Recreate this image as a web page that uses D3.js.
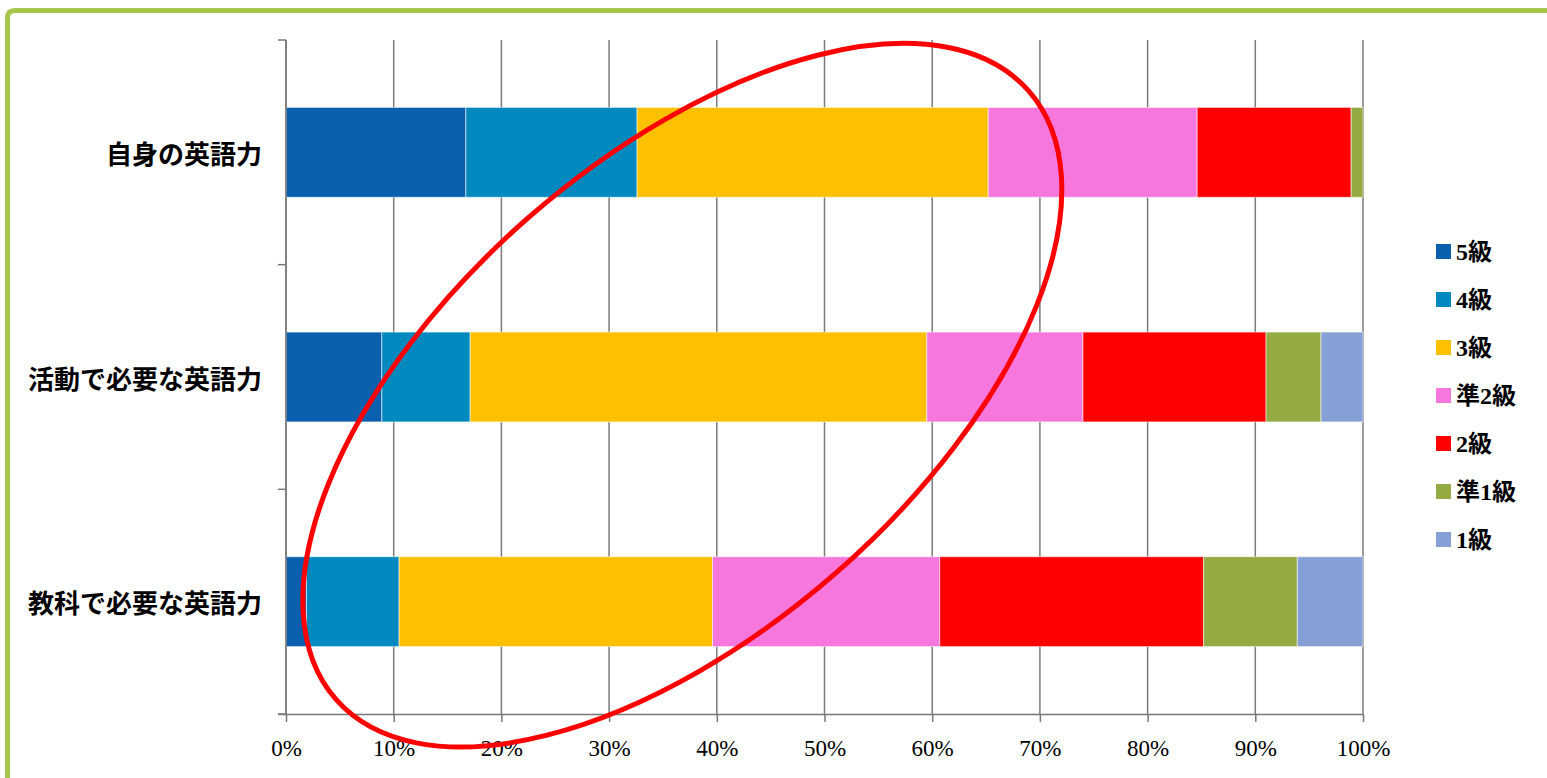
<!DOCTYPE html>
<html>
<head>
<meta charset="utf-8">
<script src="https://cdn.jsdelivr.net/npm/d3@7"></script>
<style>
  html, body { margin: 0; padding: 0; background: #fff; }
  svg { display: block; }
</style>
</head>
<body>
<svg id="chart" width="1547" height="778"></svg>
<script>
// ---- data ----
const categories = ["自身の英語力", "活動で必要な英語力", "教科で必要な英語力"];
const grades = ["5級", "4級", "3級", "準2級", "2級", "準1級", "1級"];
const gradeColors = ["#0B60AD", "#0089BF", "#FFC000", "#F877DD", "#FF0000", "#93AB42", "#86A0D5"];
// percentage per grade, in category order
const g5   = [16.7,  8.9,  1.9];
const g4   = [15.9,  8.2,  8.6];
const g3   = [32.6, 42.4, 29.1];
const gP2  = [19.4, 14.5, 21.1];
const g2   = [14.3, 17.0, 24.5];
const gP1  = [ 1.1,  5.1,  8.7];
const g1   = [ 0.0,  3.9,  6.1];
const tickValues = [0, 0.1, 0.2, 0.3, 0.4, 0.5, 0.6, 0.7, 0.8, 0.9, 1.0];
// annotation ellipse (in data units of the x scale / plot fraction of y)
const ellipseCenterX = 0.368, ellipseCenterYFrac = 0.527;

const seriesValues = [g5, g4, g3, gP2, g2, gP1, g1];
const rows = categories.map((c, i) => {
  const r = { cat: c };
  grades.forEach((g, j) => r[g] = seriesValues[j][i] / 100);
  return r;
});

// ---- layout ----
const svg = d3.select("#chart");
const plot = { left: 286, right: 1363, top: 40, bottom: 714 };

const x = d3.scaleLinear().domain([0, 1]).range([plot.left, plot.right]);
const y = d3.scaleBand().domain(categories).range([plot.top, plot.bottom])
  .paddingInner(0.6).paddingOuter(0.3);
const color = d3.scaleOrdinal().domain(grades).range(gradeColors);

// green frame
svg.append("path")
  .attr("d", `M7.5,778 L7.5,18 Q7.5,10.5 15,10.5 L1547,10.5`)
  .attr("fill", "none").attr("stroke", "#A6C64B").attr("stroke-width", 5);

const font = "'Liberation Serif', 'DejaVu Serif', 'Noto Sans CJK JP', serif";

// vertical gridlines
svg.append("g").selectAll("line").data(tickValues).join("line")
  .attr("x1", d => x(d)).attr("x2", d => x(d))
  .attr("y1", plot.top).attr("y2", plot.bottom)
  .attr("stroke", "#7a7a7a").attr("stroke-width", 1.5);

// bars
const stacked = d3.stack().keys(grades)(rows);
svg.append("g").selectAll("g").data(stacked).join("g")
  .attr("fill", d => color(d.key))
  .selectAll("rect").data(d => d).join("rect")
  .attr("x", d => x(d[0]))
  .attr("width", d => Math.max(0, x(d[1]) - x(d[0])))
  .attr("y", d => y(d.data.cat))
  .attr("height", y.bandwidth())
  .attr("stroke", "rgba(255,255,255,0.55)").attr("stroke-width", 1);

// x axis
const xAxis = d3.axisBottom(x).tickValues(tickValues)
  .tickFormat(d3.format(".0%")).tickSize(8).tickSizeOuter(0);
const gx = svg.append("g").attr("transform", `translate(0,${plot.bottom})`).call(xAxis);
gx.select(".domain").attr("stroke", "#777").attr("stroke-width", 1.5)
  .attr("d", `M${plot.left - 8},0.5H${plot.right}`);
gx.selectAll(".tick line").attr("stroke", "#777").attr("stroke-width", 1.5);
gx.selectAll(".tick text").attr("y", 26)
  .attr("font-family", font).attr("font-size", 23).attr("fill", "#000");

// y axis (category separators)
const bounds = d3.range(categories.length + 1).map(i => plot.top + i * y.step());
const gy = svg.append("g");
gy.append("line").attr("x1", plot.left).attr("x2", plot.left)
  .attr("y1", plot.top).attr("y2", plot.bottom)
  .attr("stroke", "#777").attr("stroke-width", 1.5);
gy.selectAll("line.t").data(bounds).join("line").attr("class", "t")
  .attr("x1", plot.left - 8).attr("x2", plot.left)
  .attr("y1", d => d).attr("y2", d => d)
  .attr("stroke", "#777").attr("stroke-width", 1.5);
gy.selectAll("text").data(categories).join("text")
  .attr("x", 262).attr("y", d => y(d) + y.bandwidth() / 2)
  .attr("text-anchor", "end").attr("dominant-baseline", "central")
  .attr("font-family", "'Noto Sans CJK JP', sans-serif").attr("font-weight", "bold")
  .attr("font-size", 26).attr("fill", "#000")
  .text(d => d);

// legend
const leg = svg.append("g").attr("transform", "translate(1436,244)");
const li = leg.selectAll("g").data(grades).join("g")
  .attr("transform", (d, i) => `translate(0,${i * 48})`);
li.append("rect").attr("width", 15).attr("height", 15).attr("fill", d => color(d));
li.append("text").attr("x", 20).attr("y", 8).attr("dominant-baseline", "central")
  .attr("font-family", font).attr("font-weight", "bold").attr("font-size", 24)
  .attr("fill", "#000").text(d => d);

// red ellipse annotation
const ecx = x(ellipseCenterX);
const ecy = plot.top + ellipseCenterYFrac * (plot.bottom - plot.top);
svg.append("ellipse")
  .attr("cx", ecx).attr("cy", ecy).attr("rx", 461).attr("ry", 235)
  .attr("transform", `rotate(-41.3,${ecx},${ecy})`)
  .attr("fill", "none").attr("stroke", "#FF0000").attr("stroke-width", 5);
</script>
</body>
</html>
